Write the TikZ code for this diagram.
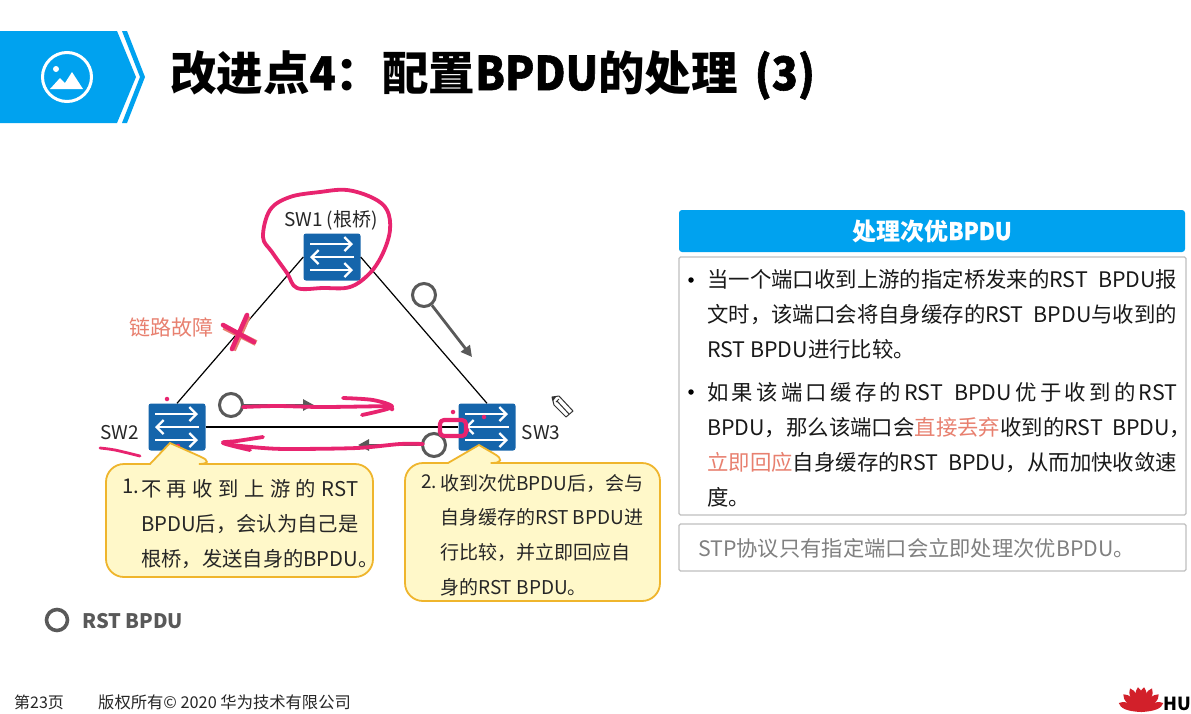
\documentclass[tikz,border=0pt]{standalone}
\usepackage{fontspec}
\setmainfont{Noto Sans CJK SC}
\newfontfamily\medlatin[FakeBold=1.2, FakeStretch=0.92]{Noto Sans CJK SC}
\usetikzlibrary{arrows.meta, positioning}
\definecolor{hwblue}{HTML}{00A2EF}
\definecolor{swblue}{HTML}{1565AB}
\definecolor{inkpink}{HTML}{E8246F}
\definecolor{salmon}{HTML}{E8806F}
\definecolor{msggrey}{HTML}{595959}
\definecolor{notefill}{HTML}{FFF8C9}
\definecolor{noteline}{HTML}{EFB52C}
\definecolor{boxline}{HTML}{BFBFBF}
\definecolor{hwred}{HTML}{D2202A}
\newcommand{\fsz}[2]{\fontsize{#1}{#2}\selectfont}
\newcommand{\fitline}[2]{\hbox to #1pt{#2}}
\newcommand{\gp}{\hfil\ }
\begin{document}
\begin{tikzpicture}[
  x=1pt, y=-1pt,
  >={Triangle[length=11pt, width=11pt]},
  switchbox/.style={fill=swblue, rounded corners=2.5pt, minimum width=57pt,
                    minimum height=47pt, inner sep=0pt},
  swarrow/.style={white, line width=2.3pt, -{Straight Barb[length=7pt, width=14pt]}},
  link/.style={black, line width=1.2pt},
  ink/.style={inkpink, line width=3.8pt, line cap=round, line join=round},
  inkdot/.style={fill=inkpink, circle, inner sep=0pt, minimum size=4.5pt},
  bpdu/.style={circle, draw=msggrey, line width=3pt, fill=white,
               inner sep=0pt, minimum size=23pt},
  msg/.style={->, msggrey, line width=2.8pt},
  swlabel/.style={font=\fsz{19}{23}, text=black!85, inner sep=0pt},
  note/.style={draw=noteline, fill=notefill, line width=1.8pt},
  notetext/.style={font=\fsz{20.3}{35}, anchor=north west, align=left,
                   inner sep=0pt, text=black!85},
  bodytext/.style={font=\fsz{21.4}{35}, anchor=north west, align=left,
                   inner sep=0pt, text=black!90},
  bulletdot/.style={circle, fill=black, inner sep=0pt, minimum size=5.5pt},
  panel/.style={draw=boxline, line width=1.3pt, rounded corners=1.5pt, fill=white}
]
  \useasboundingbox (0,0) rectangle (1191,713);
  \fill[white] (0,0) rectangle (1191,713);

  % title banner
  \fill[hwblue] (0,31) -- (117,31) -- (136,77) -- (117,123) -- (0,123) -- cycle;
  \fill[hwblue] (122,31) -- (127,31) -- (145,77) -- (127,123) -- (122,123) -- (140,77) -- cycle;
  \draw[white, line width=3pt] (67,77) circle (24.5);
  \fill[white] (56,69) circle (3);
  \fill[white] (50,89) -- (60,78) -- (65,83) -- (72,72) -- (83,89) -- cycle;
  \node[anchor=west, inner sep=0pt, font=\fsz{46.5}{50}\bfseries] (title) at (170,75)
    {改进点{\medlatin 4}：配置{\medlatin BPDU}的处理\hspace{17pt}{\medlatin (3)}};

  % switches
  \node[switchbox] (sw1) at (332,257) {};
  \node[switchbox] (sw2) at (177,427) {};
  \node[switchbox] (sw3) at (487,427) {};
  \foreach \sw in {sw1,sw2,sw3} {
    \draw[swarrow] ([shift={(-22,-13)}]\sw.center) -- ([shift={(21,-13)}]\sw.center);
    \draw[swarrow] ([shift={(22,0)}]\sw.center) -- ([shift={(-22,0)}]\sw.center);
    \draw[swarrow] ([shift={(-22,13)}]\sw.center) -- ([shift={(21,13)}]\sw.center);
  }

  % links
  \draw[link] (sw1.west) -- (sw2.north);
  \draw[link] (sw1.east) -- (sw3.north);
  \draw[link] (sw2.east) -- (sw3.west);

  \node[swlabel, anchor=center] (sw1-lbl) at (331,220) {SW1\ (根桥)};
  \node[swlabel, left=9pt of sw2, yshift=-6pt] (sw2-lbl) {SW2};
  \node[swlabel, right=6pt of sw3, yshift=-6pt] (sw3-lbl) {SW3};

  \node[font=\fsz{21}{24}, text=salmon, inner sep=0pt] (fault) at (171,327) {链路故障};

  % BPDU messages
  \coordinate (msg1-end) at (472,357);
  \coordinate (msg2-end) at (314,405);
  \coordinate (msg3-end) at (358,445);
  \node[bpdu] (msg1) at (424,295) {};
  \node[bpdu] (msg2) at (231,405) {};
  \node[bpdu] (msg3) at (434,445) {};
  \draw[msg] (msg1) -- (msg1-end);
  \draw[msg] (msg2) -- (msg2-end);
  \draw[msg] (msg3) -- (msg3-end);

  % pen marks
  \draw[ink] plot[smooth cycle, tension=0.6] coordinates {(263,237) (270,210) (290,197) (320,192)
    (347,190) (373,198) (387,210) (390,230) (383,253) (370,273) (350,287)
    (323,288) (297,288) (287,273) (272,252)};
  \draw[salmon, line width=6pt] (224,327) -- (256,343) (248,316) -- (233,350);
  \draw[ink, line width=4.6pt] (223,325) -- (254,342) (247,315) -- (232,349);
  \draw[ink] plot[smooth, tension=0.5] coordinates {(243,407) (277,406) (323,407) (390,406)};
  \draw[ink] plot[smooth, tension=0.5] coordinates {(343,398) (373,400) (392,407) (362,415)};
  \draw[ink] plot[smooth, tension=0.5] coordinates {(423,444) (400,444) (357,448) (290,449)
    (263,448) (233,445) (223,442)};
  \draw[ink] plot[smooth, tension=0.5] coordinates {(263,437) (237,441) (223,443) (250,450)};
  \draw[ink, line width=2.8pt] plot[smooth, tension=0.5] coordinates {(100,448) (115,450) (140,456)};
  \draw[ink, line width=4.2pt, rounded corners=4pt] (440,420) rectangle (466,436);
  \node[inkdot] (dot1) at (167,399) {};
  \node[inkdot] (dot2) at (178,446) {};
  \node[inkdot] (dot3) at (392,409) {};
  \node[inkdot] (dot4) at (453,412) {};
  \node[inkdot] (dot5) at (484,417) {};
  \node[inkdot] (dot6) at (486,452) {};
  \node[inkdot] (dot7) at (467,430) {};

  % pen cursor
  \draw[black!80, fill=white, line width=1pt, line join=round]
    (552,397) -- (559,396) -- (573,411) -- (566,417) -- (554,405) -- cycle;
  \draw[black!80, line width=1pt] (556,402) -- (559,399) (557,401) -- (569,414);
  \fill[black!80] (552,397) -- (556,397) -- (553,401) -- cycle;

  % notes
  \draw[note, rounded corners=18pt] (190,464) -- (217,464) [sharp corners] -- (170,443) -- (150,464)
    [rounded corners=18pt] -- (106,464) -- (106,577) -- (373,577) -- (373,464) -- cycle;
  \draw[note, rounded corners=18pt] (480,463) -- (510,463) [sharp corners] -- (479,445) -- (448,463)
    [rounded corners=18pt] -- (405,463) -- (405,601) -- (660,601) -- (660,463) -- cycle;

  \node[notetext] (num1) at (122,479) {1.};
  \node[notetext] (note1) at (141,479) {\fitline{217}{不\gp 再\gp 收\gp 到\gp 上\gp 游\gp 的\gp RST}\\
    BPDU后，会认为自己是\\根桥，发送自身的BPDU。};
  \node[notetext, font=\fsz{19}{34.7}] (num2) at (421,474) {2.};
  \node[notetext, font=\fsz{19}{34.7}] (note2) at (440,474) {收到次优BPDU后，会与\\
    \fitline{203}{自身缓存的RST\hfil BPDU进}\\行比较，并立即回应自\\身的RST BPDU。};

  % right column
  \node[fill=hwblue, rounded corners=3pt, minimum width=506pt, minimum height=42pt,
        inner sep=0pt, text=white, font=\fsz{24}{26}\bfseries] (head) at (932,231) {处理次优{\medlatin BPDU}};
  \node[panel, minimum width=507pt, minimum height=258pt, inner sep=0pt] (panel1) at (932.5,386) {};
  \node[panel, minimum width=507pt, minimum height=47pt, inner sep=0pt] (panel2) at (932.5,547.5) {};

  \node[bulletdot] (bul1) at (691,280) {};
  \node[bodytext] (para1) at (707,269.5) {\fitline{470}{当一个端口收到上游的指定桥发来的RST\hfil BPDU报}\\
    \fitline{470}{文时，该端口会将自身缓存的RST\hfil BPDU与收到的}\\
    RST BPDU进行比较。};
  \node[bulletdot] (bul2) at (691,392) {};
  \node[bodytext] (para2) at (707,382.5) {\fitline{470}{如\hfil 果\hfil 该\hfil 端\hfil 口\hfil 缓\hfil 存\hfil 的\hfil RST\hfil\ \hfil BPDU\hfil 优\hfil 于\hfil 收\hfil 到\hfil 的\hfil RST}\\
    \fitline{484}{BPDU，那么该端口会\textcolor{salmon}{直接丢弃}收到的RST\hfil BPDU，}\\
    \fitline{470}{\textcolor{salmon}{立即回应}自身缓存的RST\hfil BPDU，从而加快收敛速}\\
    度。};
  \node[font=\fsz{21.3}{25}, text=black!50, anchor=west, inner sep=0pt] (stp) at (698,548)
    {STP协议只有指定端口会立即处理次优BPDU。};

  % legend
  \node[bpdu, line width=3.6pt, minimum size=21pt] (legend-ring) at (57,620) {};
  \node[font=\fsz{20}{24}\bfseries, text=msggrey, anchor=west, inner sep=0pt] (legend) at (82,621) {RST BPDU};

  % footer
  \node[font=\fsz{16}{20}, text=black!85, anchor=west, inner sep=0pt] (page) at (14,702) {第23页};
  \node[font=\fsz{16.3}{20}, text=black!85, anchor=west, inner sep=0pt] (copy) at (98,702) {版权所有© 2020 华为技术有限公司};

  % logo
  \foreach \ang/\len in {-68/24,-45/25,-25/26,-7/25,7/25,25/26,45/25,68/24} {
    \fill[hwred, rotate around={\ang:(1141,712)}]
      (1141,712) .. controls (1136,712-0.6*\len) and (1137,712-0.85*\len) .. (1141,712-\len)
      .. controls (1145,712-0.85*\len) and (1146,712-0.6*\len) .. (1141,712) -- cycle;
  }
  \node[font=\fsz{18}{20}\bfseries, anchor=west, inner sep=0pt] (brand) at (1163,704) {HU};
\end{tikzpicture}
\end{document}
